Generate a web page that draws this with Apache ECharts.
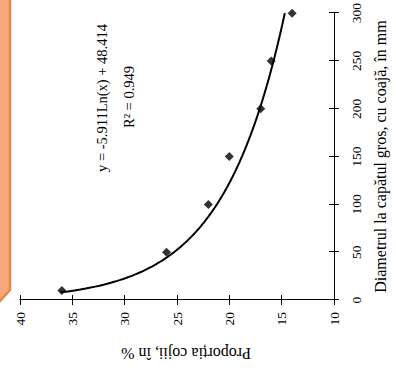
<!DOCTYPE html>
<html>
<head>
<meta charset="utf-8">
<script src="https://cdn.jsdelivr.net/npm/echarts@6/dist/echarts.min.js"></script>
<style>
  html, body { margin: 0; padding: 0; background: #fff; overflow: hidden; }
  body { width: 396px; height: 379px; position: relative; }
  /* the figure is laid out upright and turned a quarter turn counter-clockwise */
  #turn {
    position: absolute; left: 0; top: 0; width: 379px; height: 396px;
    transform-origin: 0 0; transform: translate(0px, 379px) rotate(-90deg);
  }
  #chart { width: 379px; height: 396px; }
</style>
</head>
<body>
<div id="turn"><div id="chart"></div></div>
<script>
// Measured logs: butt diameter (mm) and bark share (%)
const diameterMm = [10, 50, 100, 150, 200, 250, 300];
const barkPercent = [36, 26, 22, 20, 17, 16, 14];

// Axis ranges and tick steps
const diameterAxis = { min: 0, max: 300, step: 50 };
const barkAxis = { min: 10, max: 40, step: 5 };

// Logarithmic fit printed on the figure: y = a*ln(x) + b
const fitA = -5.911;
const fitB = 48.414;
const fitR2 = 0.949;
const fitRange = [8, 300];

const fitLine = [];
for (let x = fitRange[0]; x <= fitRange[1]; x += 1) {
  fitLine.push([x, fitA * Math.log(x) + fitB]);
}

const serif = "'Liberation Serif', 'Times New Roman', serif";
const chart = echarts.init(document.getElementById('chart'), null, { renderer: 'svg' });

const baseAxis = {
  axisLine: { show: true, lineStyle: { color: '#000', width: 1 } },
  axisTick: { show: true, length: 5, lineStyle: { color: '#000', width: 1 } },
  splitLine: { show: false },
  axisLabel: { color: '#000', fontFamily: serif, fontSize: 13.5 }
};
// second copy of each axis only draws the inner half of the crossing ticks
const innerTicks = {
  axisLine: { show: false },
  axisTick: { show: true, inside: true, length: 5, lineStyle: { color: '#000', width: 1 } },
  axisLabel: { show: false },
  splitLine: { show: false }
};

chart.setOption({
  animation: false,
  backgroundColor: '#fff',
  grid: { left: 79, right: 8, top: 20, bottom: 62 },
  xAxis: [
    Object.assign({}, baseAxis, {
      type: 'value', position: 'bottom',
      min: diameterAxis.min, max: diameterAxis.max, interval: diameterAxis.step,
      axisLabel: Object.assign({}, baseAxis.axisLabel, { margin: 15 }),
      name: 'Diametrul la capătul gros, cu coajă, în mm',
      nameLocation: 'middle', nameGap: 38,
      nameTextStyle: { color: '#000', fontFamily: serif, fontSize: 16 }
    }),
    Object.assign({}, innerTicks, {
      type: 'value', position: 'bottom',
      min: diameterAxis.min, max: diameterAxis.max, interval: diameterAxis.step
    })
  ],
  yAxis: [
    Object.assign({}, baseAxis, {
      type: 'value', position: 'left',
      min: barkAxis.min, max: barkAxis.max, interval: barkAxis.step,
      axisLabel: Object.assign({}, baseAxis.axisLabel, { margin: 12 }),
      name: 'Proporția cojii, în %',
      nameLocation: 'middle', nameGap: 45,
      nameTextStyle: { color: '#000', fontFamily: serif, fontSize: 16, padding: [0, 18, 0, 0] }
    }),
    Object.assign({}, innerTicks, {
      type: 'value', position: 'left',
      min: barkAxis.min, max: barkAxis.max, interval: barkAxis.step
    })
  ],
  series: [
    {
      type: 'line', name: 'fit', xAxisIndex: 0, yAxisIndex: 0,
      data: fitLine, showSymbol: false, smooth: false,
      lineStyle: { color: '#000', width: 2 }, z: 2
    },
    {
      type: 'scatter', name: 'measured', xAxisIndex: 0, yAxisIndex: 0,
      data: diameterMm.map((d, i) => [d, barkPercent[i]]),
      symbol: 'diamond', symbolSize: 9,
      itemStyle: { color: '#000' }, z: 3
    }
  ],
  graphic: [
    // strip of the neighbouring panel at the page edge
    {
      type: 'polygon', z: 10,
      shape: { points: [[379, 0], [379, 10], [89, 10], [77, 0]] },
      style: { fill: '#F8A87E' }
    },
    {
      type: 'polyline', z: 11,
      shape: { points: [[77, -1], [89, 10], [380, 10]] },
      style: { stroke: '#EE8739', lineWidth: 2.5, fill: null }
    },
    {
      type: 'text', x: 281, y: 102, z: 12,
      style: {
        text: 'y = ' + fitA.toFixed(3) + 'Ln(x) + ' + fitB.toFixed(3),
        fontFamily: serif, fontSize: 14.5, fill: '#000', align: 'center', verticalAlign: 'middle'
      }
    },
    {
      type: 'text', x: 282, y: 129, z: 12,
      style: {
        text: 'R² = ' + fitR2.toFixed(3),
        fontFamily: serif, fontSize: 14.5, fill: '#000', align: 'center', verticalAlign: 'middle'
      }
    }
  ]
});
</script>
</body>
</html>
